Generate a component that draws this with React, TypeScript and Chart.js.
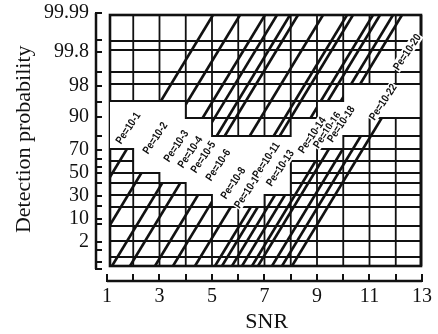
import React, { useEffect, useRef } from "react";
import { Chart, registerables } from "chart.js";

Chart.register(...registerables);

const INK = "#111111";
const SERIF = "'Liberation Serif', 'Times New Roman', serif";

// ---- axes ----
const snrTicks = [1, 2, 3, 4, 5, 6, 7, 8, 9, 10, 11, 12, 13];
const snrTickLabels = ["1", "", "3", "", "5", "", "7", "", "9", "", "11", "", "13"];
// detection-probability scale (nomogram position units)
const pdLabelPos = [269, 230, 196, 165, 132, 109, 86, 63, 40];
const pdLabels = ["99.99", "99.8", "98", "90", "70", "50", "30", "10", "2"];
const pdMinorPos = [242, 210, 180, 146, 123, 115, 99, 76, 58, 32, 20, 13];
const pdAxisRange = [13, 269];

// ---- nomogram grid ----
const gridSNR = [2, 3, 4, 5, 6, 7, 8, 9, 10, 11, 12];
const gridPos = [241, 232, 210, 198, 181, 164, 146, 133, 121, 109, 99, 87, 75, 56, 41, 25];
const boxSNR = [1.114, 12.962];
const boxPos = [16, 267];

// white label band (upper edge left->right, lower edge right->left)
const bandTopSNR = [1.114, 4, 4, 5, 5, 8, 8, 9, 9, 10, 10, 12.962];
const bandTopPos = [181, 181, 164, 164, 146, 146, 164, 164, 181, 181, 198, 198];
const bandBottomSNR = [12.962, 11, 11, 10, 10, 9, 9, 8, 8, 7, 7, 5, 5, 4, 4, 3, 3, 2, 2, 1.114];
const bandBottomPos = [164, 164, 146, 146, 133, 133, 121, 121, 87, 87, 75, 75, 87, 87, 99, 99, 109, 109, 133, 133];

// ---- curve segments below the band ----
const lowStartSNR = [1.114, 1.114, 1.19, 1.876, 2.829, 3.514, 4.352, 5.114, 5.381, 5.762, 6.143, 6.524, 6.752, 7.286, 7.667, 8.048];
const lowStartPos = [105, 57, 16, 16, 16, 16, 16, 16, 16, 16, 16, 16, 16, 16, 16, 16];
const lowEndSNR = [1.758, 2.31, 3.107, 3.792, 4.467, 5.0, 5.716, 6.478, 6.745, 7.4, 7.781, 8.947, 9.453, 9.987, 10.669, 11.465];
const lowEndPos = [133, 109, 99, 99, 87, 80.4, 75, 75, 75, 87, 87, 121, 133, 133, 146, 164];

// ---- curve segments above the band ----
const upStartSNR = [5.038, 6.067, 7.019, 7.476, 7.971, 8.276, 9.229, 10.143, 10.371, 11.133, 11.4, 11.895, 12.238];
const upStartPos = [267, 267, 267, 267, 267, 267, 267, 267, 267, 267, 267, 267, 267];
const upEndSNR = [3.053, 4.0, 4.642, 5.0, 5.179, 5.484, 6.436, 7.35, 7.579, 8.756, 9.415, 9.91, 10.646];
const upEndPos = [181, 177.5, 164, 159.8, 146, 146, 146, 146, 146, 164, 181, 181, 198];

// ---- curve labels ----
const curveLabels = [
  "Pe=10-1", "Pe=10-2", "Pe=10-3", "Pe=10-4", "Pe=10-5", "Pe=10-6", "Pe=10-8", "Pe=10-10",
  "Pe=10-11", "Pe=10-13", "Pe=10-14", "Pe=10-16", "Pe=10-18", "Pe=10-22", "Pe=10-20",
];
const labelSNR = [1.8, 2.83, 3.63, 4.16, 4.66, 5.23, 5.8, 6.37, 7.06, 7.59, 8.81, 9.38, 9.91, 11.51, 12.43];
const labelPos = [154, 144, 136, 130, 125, 117, 99, 92, 122, 114, 147, 152, 158, 180, 230];
const LABEL_ANGLE = -56 * Math.PI / 180;

const nomogramPlugin = {
  id: "nomogram",
  beforeDatasetsDraw(chart: any) {
    const { ctx } = chart;
    const X = (v: number) => chart.scales.x.getPixelForValue(v);
    const Y = (v: number) => chart.scales.y.getPixelForValue(v);
    const left = X(boxSNR[0]), right = X(boxSNR[1]);
    const bottom = Y(boxPos[0]), top = Y(boxPos[1]);
    ctx.save();
    ctx.strokeStyle = INK;
    ctx.lineWidth = 1.8;
    ctx.beginPath();
    gridSNR.forEach((v) => { const px = X(v); ctx.moveTo(px, top); ctx.lineTo(px, bottom); });
    gridPos.forEach((v) => { const py = Y(v); ctx.moveTo(left, py); ctx.lineTo(right, py); });
    ctx.stroke();
    ctx.lineWidth = 2.6;
    ctx.strokeRect(left, top, right - left, bottom - top);
    ctx.restore();
  },
  afterDatasetsDraw(chart: any) {
    const { ctx, chartArea } = chart;
    const X = (v: number) => chart.scales.x.getPixelForValue(v);
    const Y = (v: number) => chart.scales.y.getPixelForValue(v);
    ctx.save();
    // white band
    ctx.beginPath();
    bandTopSNR.forEach((s, i) => (i ? ctx.lineTo(X(s), Y(bandTopPos[i])) : ctx.moveTo(X(s), Y(bandTopPos[i]))));
    bandBottomSNR.forEach((s, i) => ctx.lineTo(X(s), Y(bandBottomPos[i])));
    ctx.closePath();
    ctx.fillStyle = "#ffffff";
    ctx.fill();
    // staircase edges
    ctx.strokeStyle = INK;
    ctx.lineWidth = 1.8;
    ctx.beginPath();
    bandTopSNR.forEach((s, i) => (i ? ctx.lineTo(X(s), Y(bandTopPos[i])) : ctx.moveTo(X(s), Y(bandTopPos[i]))));
    ctx.stroke();
    ctx.beginPath();
    bandBottomSNR.forEach((s, i) => (i ? ctx.lineTo(X(s), Y(bandBottomPos[i])) : ctx.moveTo(X(s), Y(bandBottomPos[i]))));
    ctx.stroke();
    // right border
    ctx.lineWidth = 2.6;
    ctx.beginPath();
    ctx.moveTo(X(boxSNR[1]), Y(boxPos[0]));
    ctx.lineTo(X(boxSNR[1]), Y(boxPos[1]));
    ctx.stroke();
    // curve labels
    ctx.font = "bold 11px 'Liberation Sans', Arial, sans-serif";
    ctx.textAlign = "center";
    ctx.textBaseline = "middle";
    curveLabels.forEach((t, i) => {
      ctx.save();
      ctx.translate(X(labelSNR[i]), Y(labelPos[i]));
      ctx.rotate(LABEL_ANGLE);
      ctx.scale(0.85, 1);
      const w = ctx.measureText(t).width;
      ctx.fillStyle = "#ffffff";
      ctx.fillRect(-w / 2 - 1, -5.5, w + 2, 11);
      ctx.fillStyle = INK;
      ctx.fillText(t, 0, 0.5);
      ctx.restore();
    });
    // detached axis lines
    ctx.strokeStyle = INK;
    ctx.lineWidth = 2.5;
    ctx.beginPath();
    const ax = chartArea.left + 1;
    ctx.moveTo(ax, Y(pdAxisRange[0]));
    ctx.lineTo(ax, Y(pdAxisRange[1]));
    const ay = chartArea.bottom - 1;
    ctx.moveTo(X(snrTicks[0]), ay);
    ctx.lineTo(X(snrTicks[snrTicks.length - 1]), ay);
    ctx.stroke();
    ctx.restore();
  },
};

export default function App() {
  const ref = useRef<HTMLCanvasElement>(null);
  useEffect(() => {
    document.body.style.margin = "0";
    document.body.style.overflow = "hidden";
    const canvas = ref.current!;
    const segStyle = {
      showLine: true,
      borderColor: INK,
      borderWidth: 2.6,
      pointRadius: 0,
      fill: false,
    };
    const datasets: any[] = [];
    lowStartSNR.forEach((s, i) =>
      datasets.push({ ...segStyle, data: [{ x: s, y: lowStartPos[i] }, { x: lowEndSNR[i], y: lowEndPos[i] }] })
    );
    upStartSNR.forEach((s, i) =>
      datasets.push({ ...segStyle, data: [{ x: s, y: upStartPos[i] }, { x: upEndSNR[i], y: upEndPos[i] }] })
    );
    const yTickValues = [...pdLabelPos, ...pdMinorPos].sort((a, b) => a - b);
    const chart = new Chart(canvas, {
      type: "scatter",
      data: { datasets },
      plugins: [nomogramPlugin],
      options: {
        animation: false,
        responsive: false,
        devicePixelRatio: 1,
        events: [],
        layout: { padding: { top: 13, right: 16, bottom: 0, left: 0 } },
        plugins: { legend: { display: false }, tooltip: { enabled: false } },
        scales: {
          x: {
            type: "linear",
            position: "bottom",
            min: 0.543,
            max: 13,
            afterBuildTicks: (s: any) => { s.ticks = snrTicks.map((v) => ({ value: v })); },
            afterFit: (s: any) => { s.height = 52; s.paddingLeft = 0; s.paddingRight = 0; },
            ticks: {
              autoSkip: false,
              maxRotation: 0,
              minRotation: 0,
              padding: 11,
              color: INK,
              font: { family: SERIF, size: 20 },
              callback: (v: any) => { const i = snrTicks.indexOf(Number(v)); return i >= 0 ? snrTickLabels[i] : ""; },
            },
            grid: { drawOnChartArea: false, drawTicks: true, tickLength: -8, color: INK, lineWidth: 2 },
            border: { display: false },
            title: {
              display: true,
              text: "   SNR",
              color: INK,
              font: { family: SERIF, size: 22, lineHeight: 1 },
              padding: { top: 0, bottom: 1 },
            },
          },
          y: {
            type: "linear",
            position: "left",
            min: 0,
            max: 269,
            afterBuildTicks: (s: any) => { s.ticks = yTickValues.map((v) => ({ value: v })); },
            afterFit: (s: any) => { s.width = 95; s.paddingTop = 0; s.paddingBottom = 0; },
            ticks: {
              autoSkip: false,
              padding: 13,
              color: INK,
              font: { family: SERIF, size: 20 },
              callback: (v: any) => { const i = pdLabelPos.indexOf(Number(v)); return i >= 0 ? pdLabels[i] : ""; },
            },
            grid: { drawOnChartArea: false, drawTicks: true, tickLength: -7, color: INK, lineWidth: 2 },
            border: { display: false },
            title: {
              display: true,
              text: "   Detection probability",
              color: INK,
              font: { family: SERIF, size: 22, lineHeight: 1 },
              padding: { top: 13, bottom: 0 },
            },
          },
        },
      } as any,
    });
    return () => chart.destroy();
  }, []);
  return <canvas ref={ref} width={438} height={334} style={{ display: "block" }} />;
}
